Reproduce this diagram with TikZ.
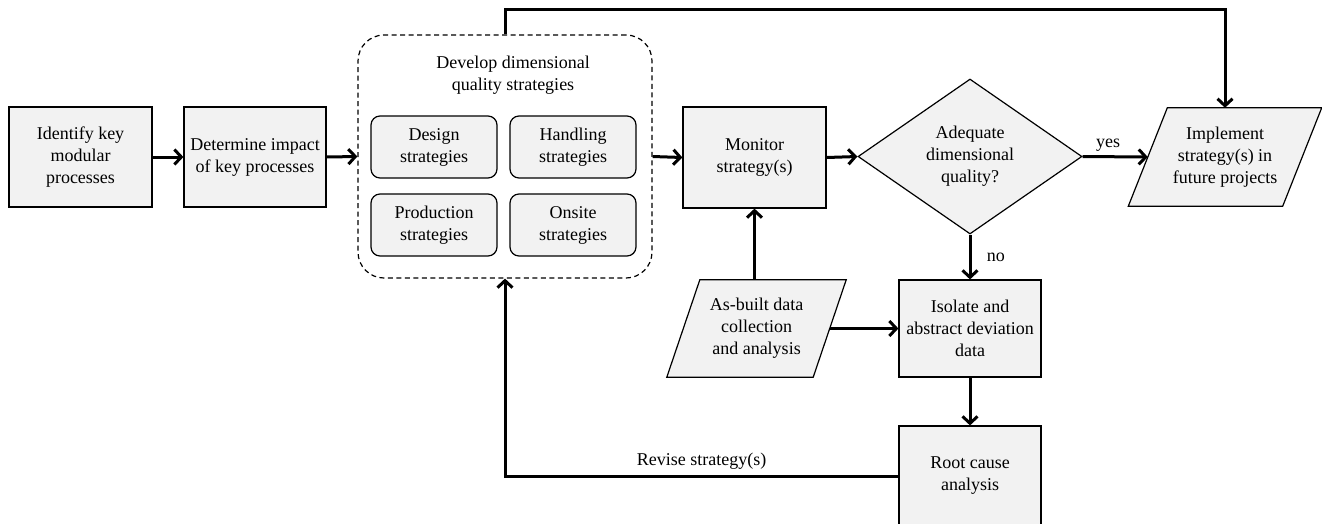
\documentclass[tikz,border=0pt]{standalone}
\usepackage{fontspec}
\setmainfont{Liberation Serif}
\newfontfamily\diagfont{Liberation Serif}
\usetikzlibrary{arrows.meta,shapes.geometric,calc,backgrounds}
\definecolor{boxfill}{HTML}{F2F2F2}
\begin{document}
\begin{tikzpicture}[x=1pt,y=-1pt,
  every node/.style={font=\diagfont\fontsize{18}{22}\selectfont},
  proc/.style={draw=black, line width=1.2pt, fill=boxfill, align=center, inner sep=0pt},
  strat/.style={proc, rounded corners=9pt, minimum width=126pt, minimum height=62pt},
  container/.style={draw=black, line width=1.2pt, dash pattern=on 5pt off 3.5pt, rounded corners=26pt, inner sep=0pt},
  decision/.style={diamond, draw=black, line width=1.2pt, fill=boxfill, align=center, inner sep=0pt},
  paratext/.style={align=center, inner sep=0pt},
  paraline/.style={draw=black, line width=1.2pt, fill=boxfill},
  arr/.style={line width=3pt, -{Straight Barb[length=7pt,width=15pt]}},
  link/.style={line width=3pt}
]
\useasboundingbox (0,0) rectangle (1322,523);

% nodes
\node[proc, minimum width=143pt, minimum height=100pt] (identify) at (80.5,157) {Identify key\\modular\\processes};
\node[proc, minimum width=142pt, minimum height=100pt] (impact) at (255,157) {Determine impact\\of key processes};
\node[container, minimum width=294pt, minimum height=243pt] (develop) at (505,156.5) {};
\node[align=center, inner sep=0pt] (devtitle) at (513,75) {Develop dimensional\\quality strategies};
\node[strat] (design) at (434,147) {Design\\strategies};
\node[strat] (handling) at (573,147) {Handling\\strategies};
\node[strat] (production) at (434,225) {Production\\strategies};
\node[strat] (onsite) at (573,225) {Onsite\\strategies};
\node[proc, minimum width=143pt, minimum height=101pt] (monitor) at (754.5,157.5) {Monitor\\strategy(s)};
\node[decision, minimum width=224pt, minimum height=155pt] (adequate) at (970,156.5) {Adequate\\dimensional\\quality?};
\node[paratext, minimum width=154pt, minimum height=98pt] (implement) at (1225,157) {Implement\\strategy(s) in\\future projects};
\node[paratext, minimum width=146pt, minimum height=97pt] (asbuilt) at (756.5,328.5) {As-built data\\collection\\and analysis};
\node[proc, minimum width=142pt, minimum height=97pt] (isolate) at (970,328.5) {Isolate and\\abstract deviation\\data};
\node[proc, minimum width=142pt, minimum height=100pt] (root) at (970,476) {Root cause\\analysis};

% parallelograms behind their texts
\begin{scope}[on background layer]
\draw[paraline] ([xshift=19.5pt]implement.north west) -- ([xshift=19.5pt]implement.north east)
  -- ([xshift=-19.5pt]implement.south east) -- ([xshift=-19.5pt]implement.south west) -- cycle;
\draw[paraline] ([xshift=16.5pt]asbuilt.north west) -- ([xshift=16.5pt]asbuilt.north east)
  -- ([xshift=-16.5pt]asbuilt.south east) -- ([xshift=-16.5pt]asbuilt.south west) -- cycle;
\end{scope}

% connectors
\draw[arr] (identify.east) -- (impact.west);
\draw[arr] (impact.east) -- (develop.west);
\draw[arr] (develop.east) -- (monitor.west);
\draw[arr] (monitor.east) -- (adequate.west);
\draw[arr] (adequate.east) -- node[above, xshift=-7pt, inner sep=4pt] (yes) {yes} (implement.west);
\draw[arr] (adequate.south) -- node[right, xshift=12pt] (no) {no} (isolate.north);
\draw[arr] (asbuilt.east) -- (isolate.west);
\draw[arr] (monitor.south |- asbuilt.north) -- (monitor.south);
\draw[arr] (isolate.south) -- (root.north);
\coordinate (topleft) at ($(develop.north)+(0,-25)$);
\draw[arr] (develop.north) -- (topleft) -| (implement.north);
\draw[arr] (root.west) -- node[above, inner sep=5pt] (revise) {Revise strategy(s)} (root.west -| develop.south) -- (develop.south);
\end{tikzpicture}
\end{document}
